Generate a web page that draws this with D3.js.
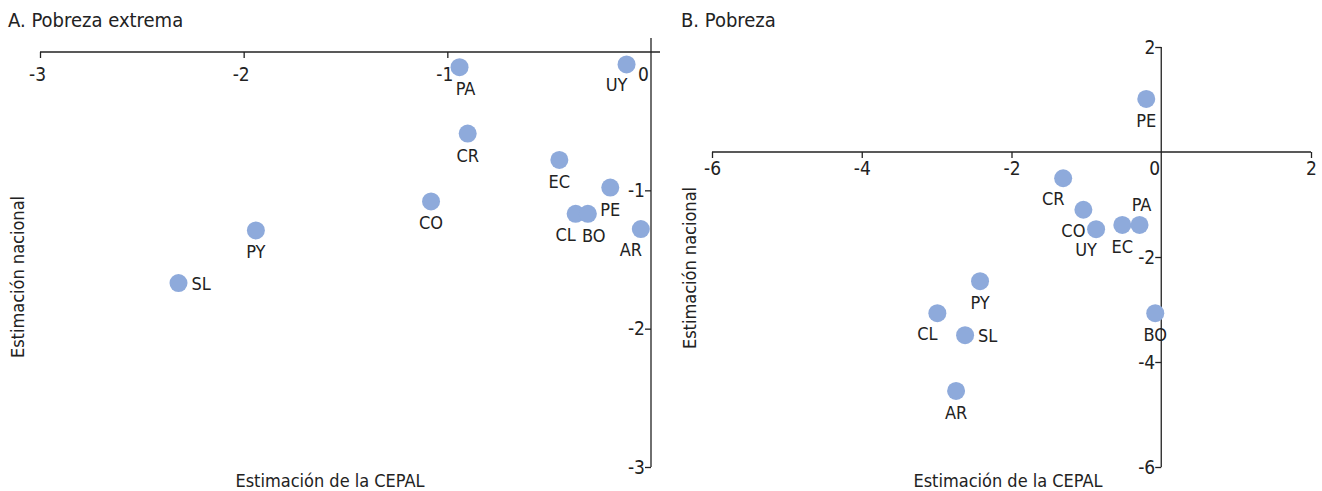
<!DOCTYPE html>
<html><head><meta charset="utf-8">
<script src="https://cdn.jsdelivr.net/npm/d3@7"></script>
<style>
body{margin:0;background:#fff;}
text{font-family:"Liberation Sans Narrow","DejaVu Sans Condensed","Roboto",sans-serif;fill:#222;}
</style></head>
<body>
<svg id="c" width="1322" height="491"></svg>
<script>
// Panel A: Pobreza extrema
const codesA = ["PA","UY","CR","EC","PE","CO","CL","BO","AR","PY","SL"];
const cepalA = [-0.94,-0.12,-0.90,-0.45,-0.20,-1.08,-0.37,-0.31,-0.05,-1.94,-2.32];
const nacA   = [-0.11,-0.09,-0.59,-0.78,-0.98,-1.08,-1.17,-1.17,-1.28,-1.29,-1.67];
const labelPosA = ["rb","lb","b","b","b","b","lb","rb","lb","b","r"];
const xTicksA = [-3,-2,-1,0];
const yTicksA = [-1,-2,-3];

// Panel B: Pobreza
const codesB = ["PE","CR","CO","UY","EC","PA","PY","CL","SL","BO","AR"];
const cepalB = [-0.20,-1.31,-1.04,-0.87,-0.52,-0.29,-2.42,-2.99,-2.62,-0.08,-2.74];
const nacB   = [1.01,-0.50,-1.10,-1.47,-1.39,-1.39,-2.46,-3.07,-3.49,-3.07,-4.55];
const labelPosB = ["b","lb","lb","lb","b","t","b","lb","r","b","b"];
const xTicksB = [-6,-4,-2,0,2];
const yTicksB = [2,-2,-4,-6];

const svg = d3.select("#c");
const color = "#8eaadb";
const R = 9;
const fmt = d => String(d);

function panel(cfg){
  const g = svg.append("g");
  const x = d3.scaleLinear().domain(cfg.xd).range(cfg.xr);
  const y = d3.scaleLinear().domain(cfg.yd).range(cfg.yr);
  g.append("text").attr("x",cfg.titleX).attr("y",27).attr("font-size",20).text(cfg.title);
  // x axis at y=0
  const xa = g.append("g").attr("transform",`translate(0,${y(0)})`)
    .call(d3.axisBottom(x).tickValues(cfg.xTicks).tickSize(6).tickSizeOuter(0).tickFormat(fmt));
  xa.select(".domain").attr("d",`M${x(cfg.xd[0])},0H${cfg.xEnd}`).attr("stroke","#222").attr("stroke-width",1.3);
  xa.selectAll(".tick line").attr("stroke","#222").attr("stroke-width",1.3);
  xa.selectAll(".tick").filter(d=>d===0).select("line").remove();
  xa.selectAll(".tick text").attr("font-size",19).attr("y",cfg.xTickY).attr("dy","0.71em").attr("fill","#222")
    .attr("dx",d=>d===0?cfg.zeroDx:cfg.tickDx);
  // y axis at x=0
  const ya = g.append("g").attr("transform",`translate(${x(0)},0)`)
    .call(d3.axisLeft(y).tickValues(cfg.yTicks).tickSize(6).tickSizeOuter(0).tickFormat(fmt));
  ya.select(".domain").attr("d",`M0,${cfg.yTop}V${y(cfg.yd[0])}`).attr("stroke","#222").attr("stroke-width",1.3);
  ya.selectAll(".tick line").attr("stroke","#222").attr("stroke-width",1.3);
  ya.selectAll(".tick text").attr("font-size",19).attr("x",-6).attr("fill","#222");
  ya.selectAll("text").attr("font-family",null);
  xa.selectAll("text").attr("font-family",null);
  // axis titles
  g.append("text").attr("transform",`translate(${cfg.yLabX},${cfg.yLabY}) rotate(-90)`)
    .attr("text-anchor","middle").attr("font-size",18).text("Estimación nacional");
  g.append("text").attr("x",cfg.xLabX).attr("y",487)
    .attr("text-anchor","middle").attr("font-size",18).text("Estimación de la CEPAL");
  // points
  const data = cfg.codes.map((c,i)=>({c, x:cfg.cx[i], y:cfg.cy[i], p:cfg.lp[i]}));
  g.selectAll("circle").data(data).enter().append("circle")
    .attr("cx",d=>x(d.x)).attr("cy",d=>y(d.y)).attr("r",R).attr("fill",color);
  const off = {b:[0,28,"middle"], lb:[-10,27,"middle"], rb:[6,28,"middle"], r:[13,7,"start"], t:[2,-14,"middle"]};
  g.selectAll("text.lab").data(data).enter().append("text").attr("class","lab")
    .attr("x",d=>x(d.x)+off[d.p][0]).attr("y",d=>y(d.y)+off[d.p][1])
    .attr("text-anchor",d=>off[d.p][2]).attr("font-size",18).text(d=>d.c);
}

panel({title:"A. Pobreza extrema", titleX:8, xd:[-3,0], xr:[40,651], yd:[-3,0], yr:[467,52],
  xEnd:660, yTop:38, xTicks:xTicksA, yTicks:yTicksA, yLabX:24, yLabY:277, xLabX:330, xTickY:16, zeroDx:-8, tickDx:-3,
  codes:codesA, cx:cepalA, cy:nacA, lp:labelPosA});
panel({title:"B. Pobreza", titleX:681, xd:[-6,2], xr:[712,1311], yd:[-6,2], yr:[467,47],
  xEnd:1311, yTop:47, xTicks:xTicksB, yTicks:yTicksB, yLabX:696, yLabY:268, xLabX:1008, xTickY:10, zeroDx:-7, tickDx:0,
  codes:codesB, cx:cepalB, cy:nacB, lp:labelPosB});
</script>
</body></html>
